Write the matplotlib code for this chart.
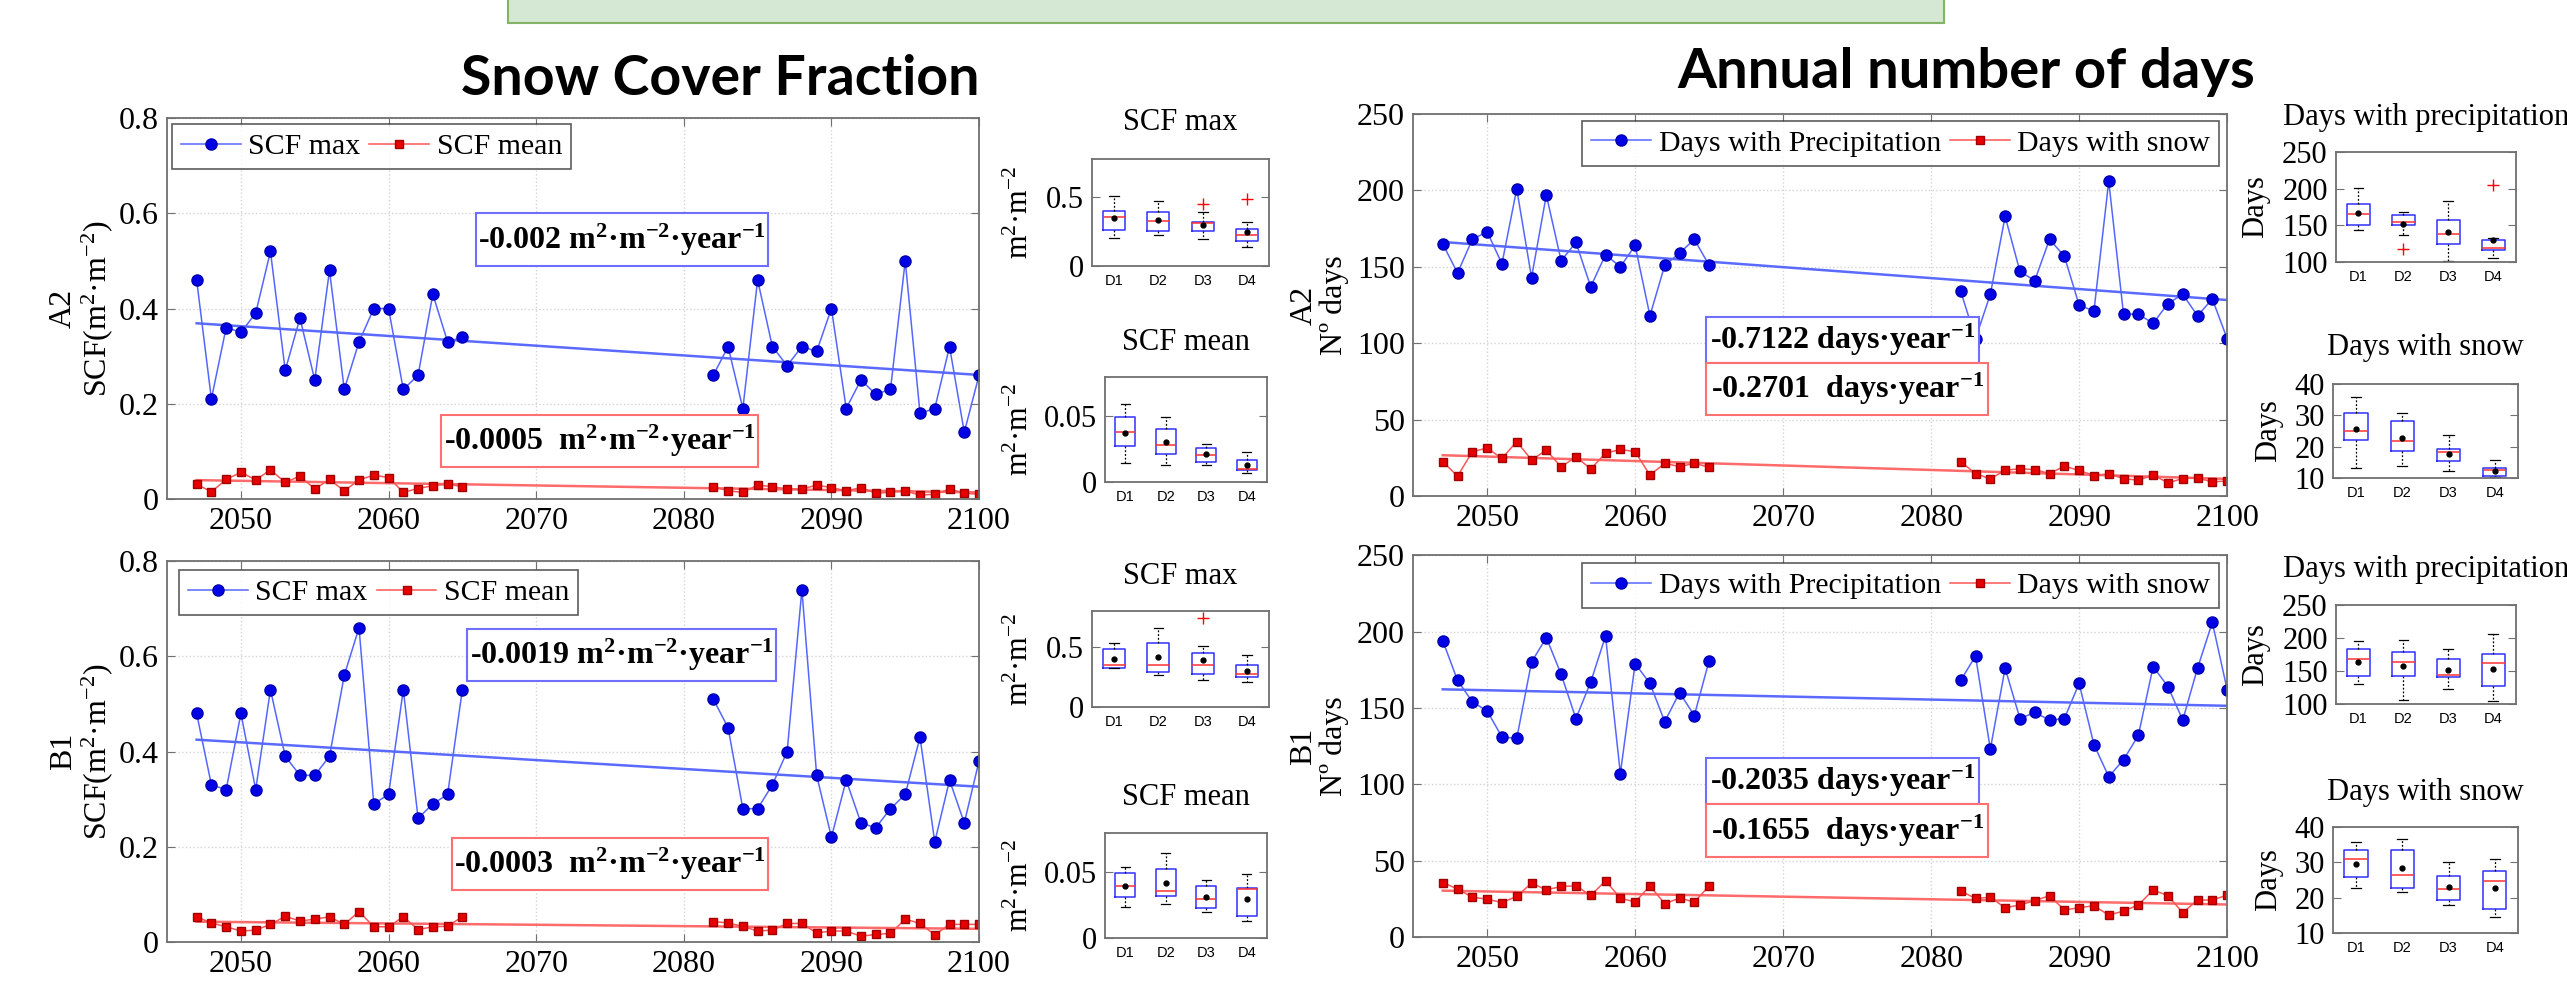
import numpy as np
import matplotlib
matplotlib.use('Agg')
from matplotlib import pyplot as plt
from matplotlib.patches import Rectangle

plt.rcParams['font.family'] = ['Liberation Serif', 'DejaVu Serif']
plt.rcParams['mathtext.fontset'] = 'custom'
plt.rcParams['mathtext.rm'] = 'Liberation Serif'
plt.rcParams['mathtext.it'] = 'Liberation Serif:italic'
plt.rcParams['mathtext.bf'] = 'Liberation Serif:bold'

# years with data (two windows, gap in between)
years_a = list(range(2047, 2066))
years_b = list(range(2082, 2101))

# snow cover fraction, A2 / B1
scf_max_a2 = [0.46, 0.21, 0.36, 0.35, 0.39, 0.52, 0.27, 0.38, 0.25, 0.48, 0.23, 0.33, 0.40, 0.40, 0.23, 0.26, 0.43, 0.33, 0.34,
              0.26, 0.32, 0.19, 0.46, 0.32, 0.28, 0.32, 0.31, 0.40, 0.19, 0.25, 0.22, 0.23, 0.50, 0.18, 0.19, 0.32, 0.14, 0.26]
scf_mean_a2 = [0.031, 0.015, 0.041, 0.056, 0.040, 0.061, 0.035, 0.048, 0.021, 0.041, 0.017, 0.040, 0.050, 0.045, 0.014, 0.022, 0.028, 0.031, 0.026,
               0.026, 0.017, 0.014, 0.029, 0.026, 0.021, 0.021, 0.029, 0.024, 0.017, 0.024, 0.012, 0.014, 0.017, 0.008, 0.010, 0.021, 0.012, 0.010]
scf_max_b1 = [0.48, 0.33, 0.32, 0.48, 0.32, 0.53, 0.39, 0.35, 0.35, 0.39, 0.56, 0.66, 0.29, 0.31, 0.53, 0.26, 0.29, 0.31, 0.53,
              0.51, 0.45, 0.28, 0.28, 0.33, 0.40, 0.74, 0.35, 0.22, 0.34, 0.25, 0.24, 0.28, 0.31, 0.43, 0.21, 0.34, 0.25, 0.38]
scf_mean_b1 = [0.053, 0.040, 0.032, 0.023, 0.025, 0.037, 0.054, 0.044, 0.048, 0.053, 0.037, 0.064, 0.032, 0.032, 0.053, 0.026, 0.032, 0.033, 0.053,
               0.043, 0.040, 0.033, 0.023, 0.025, 0.039, 0.039, 0.019, 0.023, 0.023, 0.012, 0.016, 0.018, 0.048, 0.039, 0.015, 0.037, 0.037, 0.037]

# annual number of days, A2 / B1
precip_a2 = [165, 146, 168, 173, 152, 201, 143, 197, 154, 166, 137, 158, 150, 164, 118, 151, 159, 168, 151,
             134, 103, 132, 183, 147, 141, 168, 157, 125, 121, 206, 119, 119, 113, 126, 132, 118, 129, 103]
snow_a2 = [22.5, 13, 29, 31.4, 24.6, 35.6, 23.6, 30, 19, 25.7, 17.7, 28, 30.5, 29, 13.7, 21.4, 19.2, 21.4, 18.8,
           22.4, 14.7, 11.2, 16.9, 17.8, 17.3, 14.7, 19.5, 16.7, 13.4, 14.5, 11.4, 10.3, 13.8, 8.6, 11.4, 11.8, 9.2, 9.9]
precip_b1 = [194, 168, 154, 148, 131, 130, 180, 196, 172, 143, 167, 197, 107, 179, 166, 141, 160, 145, 181,
             168, 184, 123, 176, 143, 147, 142, 143, 166, 126, 105, 116, 132, 177, 164, 142, 176, 206, 162]
snow_b1 = [35.7, 31.4, 26.1, 24.8, 22.6, 26.6, 35.3, 30.9, 33.1, 33.5, 27.2, 36.8, 25.5, 22.9, 33.5, 21.8, 25.5, 22.9, 33.5,
           30.1, 25.3, 26, 19.2, 21, 23.8, 27.1, 17.7, 19.2, 20.5, 14.4, 17, 21, 30.8, 27.1, 15.9, 24.2, 24.2, 27.5]

# box plot stats per decade group: (whisker low, q1, median, q3, whisker high, mean)
groups = ['D1', 'D2', 'D3', 'D4']
box_scfmax_a2 = [(0.207, 0.261, 0.354, 0.402, 0.512, 0.349), (0.227, 0.256, 0.329, 0.395, 0.471, 0.337),
                 (0.193, 0.256, 0.312, 0.317, 0.395, 0.300), (0.139, 0.185, 0.227, 0.271, 0.317, 0.251)]
out_scfmax_a2 = [[], [], [0.449], [0.488]]
box_scfmean_a2 = [(0.0146, 0.0274, 0.0385, 0.0492, 0.0595, 0.0377), (0.0126, 0.0213, 0.0285, 0.0403, 0.0495, 0.0303),
                  (0.0126, 0.0154, 0.0208, 0.0256, 0.029, 0.021), (0.0069, 0.0095, 0.0103, 0.0167, 0.0231, 0.0133)]
box_scfmax_b1 = [(0.321, 0.324, 0.352, 0.483, 0.534, 0.397), (0.263, 0.291, 0.352, 0.531, 0.662, 0.413),
                 (0.221, 0.279, 0.346, 0.453, 0.508, 0.391), (0.209, 0.246, 0.279, 0.349, 0.430, 0.299)]
out_scfmax_b1 = [[], [], [0.74], []]
box_scfmean_b1 = [(0.0237, 0.0309, 0.0395, 0.0492, 0.0543, 0.0398), (0.0263, 0.0319, 0.036, 0.0526, 0.065, 0.042),
                  (0.0196, 0.0232, 0.0296, 0.0398, 0.0441, 0.0314), (0.013, 0.0166, 0.037, 0.038, 0.0487, 0.0296)]
box_precip_a2 = [(143, 150, 165, 179, 201, 167), (137, 150, 155, 164, 168, 152),
                 (102, 125, 138, 157, 183, 141), (105, 117, 119, 130, 133, 130)]
out_precip_a2 = [[], [118], [], [205]]
box_snow_a2 = [(13.2, 22, 24.9, 30.8, 36, 25.6), (13.8, 18.7, 21.7, 28.1, 30.8, 22.7),
               (12.3, 15.5, 18.2, 19.2, 23.6, 17.6), (10.3, 10.6, 12.5, 13.3, 15.7, 12.3)]
box_precip_b1 = [(130, 143, 168, 183, 196, 163), (106, 142, 163, 179, 197, 158),
                 (123, 141, 144, 168, 184, 151), (105, 128, 162, 176, 206, 153)]
box_snow_b1 = [(22.6, 25.7, 31, 33.6, 35.7, 29.5), (21.7, 22.7, 26.5, 33.5, 36.7, 28.3),
               (17.8, 19.3, 22.4, 26.2, 30, 23), (14.6, 16.7, 24.6, 27.4, 30.8, 22.7)]
no_out = [[], [], [], []]

scf_ticks = [0, 0.2, 0.4, 0.6, 0.8]
scf_ticklabels = ['0', '0.2', '0.4', '0.6', '0.8']
days_ticks = [0, 50, 100, 150, 200, 250]
year_ticks = [2050, 2060, 2070, 2080, 2090, 2100]

SPINE = '#707070'
blue_st = dict(color='#5566ff', lw=1.1, marker='o', ms=8, mfc='#0000e6', mec='#0000b0')
red_st = dict(color='#ff5555', lw=1.1, marker='s', ms=5.8, mfc='#e60000', mec='#a00000')


def style_axes(ax, size):
    for sp in ax.spines.values():
        sp.set_color(SPINE)
        sp.set_linewidth(1.3)
    ax.tick_params(direction='in', top=True, right=True, length=6, color=SPINE,
                   labelsize=size, pad=6)


def series_panel(ax, first, second, names, ylim, yticks, yticklabels, ylabel, label_x,
                 leg_loc, leg_anchor, notes):
    n = len(years_a)
    allx = np.array(years_a + years_b)
    for vals, st, name, tcol in ((first, blue_st, names[0], '#5a6aff'), (second, red_st, names[1], '#ff6a6a')):
        ax.plot(years_a, vals[:n], label=name, **st)
        ax.plot(years_b, vals[n:], **st)
        c = np.polyfit(allx, vals, 1)
        ends = np.array([allx.min(), allx.max()])
        ax.plot(ends, np.polyval(c, ends), color=tcol, lw=1.8, zorder=1.5)
    ax.set_xlim(2045, 2100)
    ax.set_ylim(*ylim)
    ax.set_xticks(year_ticks)
    ax.set_yticks(yticks)
    ax.set_yticklabels(yticklabels)
    ax.grid(True, color='#d4d4d4', linestyle=':', lw=1.0)
    ax.set_axisbelow(True)
    style_axes(ax, 23)
    ax.set_ylabel(ylabel, fontsize=23, linespacing=1.05)
    ax.yaxis.set_label_coords(label_x, 0.5)
    leg = ax.legend(loc=leg_loc, bbox_to_anchor=leg_anchor, ncol=2, fontsize=21.5, frameon=True,
                    fancybox=False, edgecolor='#333333', borderaxespad=0, handlelength=2.0,
                    handletextpad=0.25, columnspacing=0.3, borderpad=0.3)
    leg.get_frame().set_linewidth(1.2)
    leg.set_zorder(10)
    for x0, y0, x1, y1, txt, ec in notes:
        ax.add_patch(Rectangle((x0, y0), x1 - x0, y1 - y0, transform=ax.transAxes,
                               fc='white', ec=ec, lw=1.5, zorder=6))
        ax.text((x0 + x1) / 2, (y0 + y1) / 2, txt, transform=ax.transAxes, ha='center',
                va='center', fontsize=23, fontweight='bold', zorder=7)


def box_panel(ax, rows, outliers, ylim, yticks, yticklabels, title, title_y, ylabel, label_x):
    stats = []
    for i, (lo, q1, med, q3, hi, mean) in enumerate(rows):
        stats.append(dict(whislo=lo, q1=q1, med=med, q3=q3, whishi=hi, mean=mean,
                          fliers=outliers[i], label=groups[i]))
    ax.bxp(stats, positions=[1, 2, 3, 4], widths=0.5, capwidths=0.22, showmeans=True,
           boxprops=dict(color='#3030ff', lw=1.1),
           medianprops=dict(color='#ff3030', lw=1.1),
           whiskerprops=dict(color='black', lw=0.9, linestyle=(0, (1.5, 1.5))),
           capprops=dict(color='black', lw=0.9),
           meanprops=dict(marker='o', ms=3.5, mfc='black', mec='black'),
           flierprops=dict(marker='+', ms=8, mec='red', mew=1.0))
    ax.set_xlim(0.5, 4.5)
    ax.set_ylim(*ylim)
    ax.set_yticks(yticks)
    ax.set_yticklabels(yticklabels)
    style_axes(ax, 22)
    ax.tick_params(axis='x', length=0, top=False, pad=6)
    ax.set_xticklabels(groups, fontfamily='Liberation Sans', fontsize=10.5)
    ax.set_ylabel(ylabel, fontsize=22)
    ax.yaxis.set_label_coords(label_x, 0.5)
    ax.text(0.5, title_y, title, transform=ax.transAxes, ha='center', va='center', fontsize=22)


fig = plt.figure(figsize=(25.67, 9.92), dpi=100)

# green header box (cut at top)
fig.patches.append(Rectangle((0.1979, 0.9768), 0.5594, 0.05, transform=fig.transFigure,
                             fc='#d5e8d4', ec='#82b366', lw=1.5))
fig.text(0.2805, 0.9042, 'Snow Cover Fraction', fontfamily='Lato', fontweight='bold',
         fontsize=40, ha='center', va='baseline')
fig.text(0.766, 0.9113, 'Annual number of days', fontfamily='Lato', fontweight='bold',
         fontsize=40.5, ha='center', va='baseline')

unit = ' m$^{\\mathbf{2}}$·m$^{\\mathbf{-2}}$·year$^{\\mathbf{-1}}$'
dunit = ' days·year$^{\\mathbf{-1}}$'
scf_label = 'SCF(m$^{2}$·m$^{-2}$)'

ax1 = fig.add_axes([0.0651, 0.497, 0.3163, 0.384])
series_panel(ax1, scf_max_a2, scf_mean_a2, ['SCF max', 'SCF mean'], (0, 0.8), scf_ticks, scf_ticklabels,
             'A2\n' + scf_label, -0.064, 'upper left', (0.006, 0.984),
             [(0.3805, 0.6115, 0.740, 0.7507, '-0.002' + unit, '#6f6fff'),
              (0.3374, 0.084, 0.7278, 0.2205, '-0.0005 ' + unit, '#ff7070')])

ax2 = fig.add_axes([0.0651, 0.0504, 0.3163, 0.384])
series_panel(ax2, scf_max_b1, scf_mean_b1, ['SCF max', 'SCF mean'], (0, 0.8), scf_ticks, scf_ticklabels,
             'B1\n' + scf_label, -0.064, 'upper left', (0.015, 0.976),
             [(0.3695, 0.685, 0.750, 0.8215, '-0.0019' + unit, '#6f6fff'),
              (0.351, 0.1365, 0.740, 0.273, '-0.0003 ' + unit, '#ff7070')])

ax3 = fig.add_axes([0.5505, 0.50, 0.3171, 0.385])
series_panel(ax3, precip_a2, snow_a2, ['Days with Precipitation', 'Days with snow'], (0, 250), days_ticks,
             [str(t) for t in days_ticks], 'A2\nNº days', -0.0786, 'upper right', (0.990, 0.982),
             [(0.36, 0.348, 0.6953, 0.4686, '-0.7122' + dunit, '#6f6fff'),
              (0.36, 0.212, 0.7064, 0.348, '-0.2701 ' + dunit, '#ff7070')])

ax4 = fig.add_axes([0.5505, 0.0554, 0.3171, 0.385])
series_panel(ax4, precip_b1, snow_b1, ['Days with Precipitation', 'Days with snow'], (0, 250), days_ticks,
             [str(t) for t in days_ticks], 'B1\nNº days', -0.0786, 'upper right', (0.990, 0.979),
             [(0.36, 0.348, 0.6953, 0.4686, '-0.2035' + dunit, '#6f6fff'),
              (0.36, 0.2094, 0.7064, 0.348, '-0.1655 ' + dunit, '#ff7070')])

m_label = 'm$^{2}$·m$^{-2}$'
b1 = fig.add_axes([0.4254, 0.7319, 0.069, 0.1079])
box_panel(b1, box_scfmax_a2, out_scfmax_a2, (0, 0.78), [0, 0.5], ['0', '0.5'], 'SCF max', 1.336, m_label, -0.322)
b2 = fig.add_axes([0.4305, 0.5141, 0.0631, 0.1058])
box_panel(b2, box_scfmean_a2, no_out, (0, 0.08), [0, 0.05], ['0', '0.05'], 'SCF mean', 1.333, m_label, -0.432)
b3 = fig.add_axes([0.4254, 0.2873, 0.069, 0.0968])
box_panel(b3, box_scfmax_b1, out_scfmax_b1, (0, 0.8), [0, 0.5], ['0', '0.5'], 'SCF max', 1.354, m_label, -0.322)
b4 = fig.add_axes([0.4305, 0.0544, 0.0631, 0.1058])
box_panel(b4, box_scfmean_b1, no_out, (0, 0.08), [0, 0.05], ['0', '0.05'], 'SCF mean', 1.343, m_label, -0.432)

b5 = fig.add_axes([0.910, 0.7359, 0.0701, 0.1109])
box_panel(b5, box_precip_a2, out_precip_a2, (100, 250), [100, 150, 200, 250], ['100', '150', '200', '250'],
          'Days with precipitation', 1.31, 'Days', -0.367)
b6 = fig.add_axes([0.9088, 0.5181, 0.0721, 0.0948])
box_panel(b6, box_snow_a2, no_out, (10, 40), [10, 20, 30, 40], ['10', '20', '30', '40'],
          'Days with snow', 1.383, 'Days', -0.27)
b7 = fig.add_axes([0.910, 0.2903, 0.0701, 0.0998])
box_panel(b7, box_precip_b1, no_out, (100, 250), [100, 150, 200, 250], ['100', '150', '200', '250'],
          'Days with precipitation', 1.354, 'Days', -0.367)
b8 = fig.add_axes([0.9088, 0.0595, 0.0721, 0.1069])
box_panel(b8, box_snow_b1, no_out, (10, 40), [10, 20, 30, 40], ['10', '20', '30', '40'],
          'Days with snow', 1.32, 'Days', -0.27)

fig.savefig('out.png', dpi=100)
